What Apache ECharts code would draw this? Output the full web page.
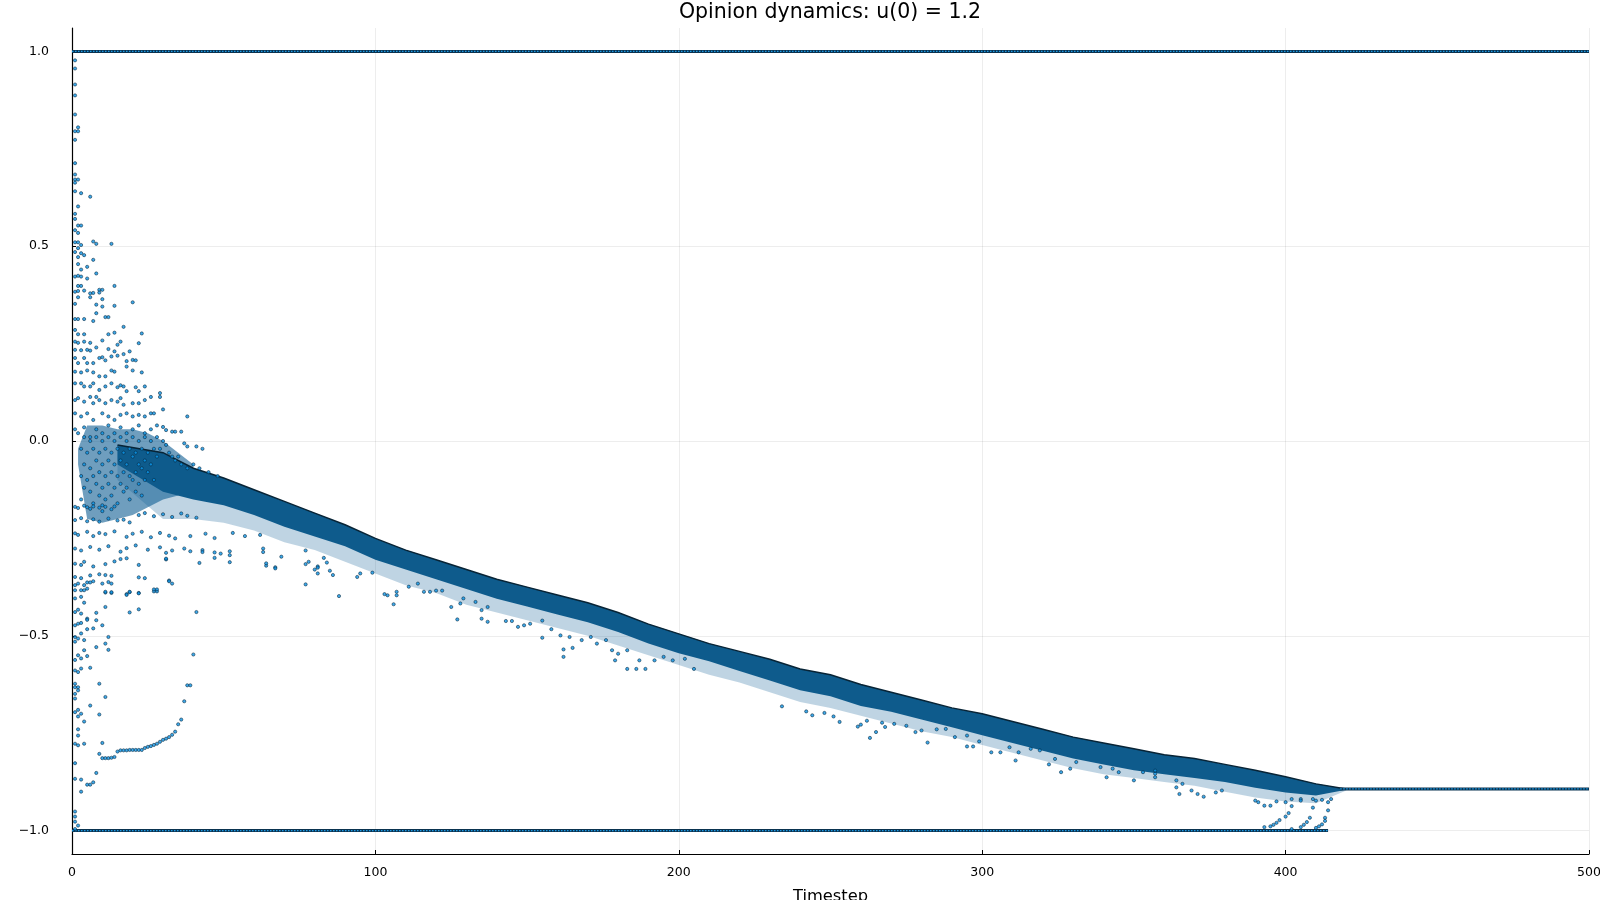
<!DOCTYPE html>
<html lang="en">
<head>
<meta charset="UTF-8">
<title>Opinion dynamics</title>
<script src="https://cdn.jsdelivr.net/npm/echarts@6/dist/echarts.min.js"></script>
<style>
    html, body { margin: 0; padding: 0; background: #fff; }
    #main { width: 1600px; height: 900px; }
</style>
</head>
<body>
<div id="main"></div>
<script>
// ticks
var xTicks = [0, 100, 200, 300, 400, 500];
var yTicks = [-1, -0.5, 0, 0.5, 1];

// early cloud of opinions right after the start
var cloudTimes = [2, 5, 10, 15, 20, 25, 30, 35, 40];
var cloudTop = [-0.02, 0.04, 0.04, 0.03, 0.03, 0.02, 0.0, -0.03, -0.06];
var cloudLow = [-0.06, -0.2, -0.21, -0.2, -0.19, -0.17, -0.15, -0.14, -0.1];

// dense band of opinions (read every 10 steps): upper edge, lower edge of dense part, lower edge of sparse halo
var bandTimes = [15, 30, 40, 50, 60, 70, 80, 90, 100, 110, 120, 130, 140, 150, 160, 170, 180, 190, 200,
    210, 220, 230, 240, 250, 260, 270, 280, 290, 300, 310, 320, 330, 340, 350, 360, 370, 380, 390, 400, 410, 420];
var bandTop = [-0.01, -0.03, -0.07, -0.095, -0.125, -0.155, -0.185, -0.215, -0.25, -0.28, -0.305, -0.33, -0.355,
    -0.375, -0.395, -0.415, -0.44, -0.47, -0.495, -0.52, -0.54, -0.56, -0.585, -0.6, -0.625, -0.645, -0.665, -0.685,
    -0.7, -0.72, -0.74, -0.76, -0.775, -0.79, -0.805, -0.815, -0.83, -0.845, -0.862, -0.88, -0.893];
var bandLow = [-0.06, -0.13, -0.15, -0.165, -0.19, -0.22, -0.245, -0.27, -0.305, -0.33, -0.355, -0.38, -0.405,
    -0.425, -0.445, -0.465, -0.49, -0.52, -0.545, -0.565, -0.59, -0.615, -0.64, -0.655, -0.68, -0.695, -0.715, -0.735,
    -0.755, -0.775, -0.795, -0.815, -0.83, -0.845, -0.855, -0.865, -0.875, -0.89, -0.902, -0.91, -0.895];
var haloLow = [-0.1, -0.2, -0.2, -0.21, -0.23, -0.26, -0.28, -0.31, -0.34, -0.37, -0.39, -0.42, -0.44,
    -0.46, -0.48, -0.5, -0.525, -0.55, -0.575, -0.6, -0.62, -0.645, -0.67, -0.685, -0.705, -0.725, -0.745, -0.76,
    -0.78, -0.8, -0.82, -0.84, -0.855, -0.865, -0.875, -0.885, -0.9, -0.915, -0.925, -0.93, -0.897];

// agents stuck at the extremes and the final cluster
var topLine = [[0, 1], [500, 1]];
var bottomLine = [[0, -1], [414, -1]];
var finalLine = [[418, -0.893], [500, -0.893]];

// scattered agents in the first steps, above the band
var earlyAbove = [[1,0.977],[1,0.956],[1,0.915],[1,0.887],[1,0.838],[1,0.795],[2,0.795],[2,0.805],[1,0.773],[1,0.713],
    [1,0.684],[1,0.671],[2,0.671],[1,0.663],[1,0.641],[3,0.636],[6,0.627],[2,0.602],[1,0.583],[1,0.570],[2,0.553],[3,0.553],
    [1,0.541],[2,0.534],[1,0.510],[2,0.510],[7,0.512],[8,0.506],[13,0.506],[3,0.503],[1,0.485],[2,0.495],[3,0.482],[4,0.477],
    [2,0.472],[7,0.465],[2,0.454],[5,0.447],[3,0.440],[8,0.430],[1,0.422],[2,0.424],[3,0.422],[5,0.417],[2,0.398],[3,0.398],
    [14,0.398],[9,0.388],[10,0.388],[1,0.383],[2,0.385],[4,0.386],[6,0.379],[7,0.380],[9,0.381],[2,0.369],[6,0.369],[10,0.364],
    [1,0.352],[8,0.350],[8,0.328],[10,0.345],[14,0.347],[20,0.356],[1,0.313],[2,0.313],[4,0.313],[7,0.308],[11,0.318],[12,0.318],
    [17,0.293],[1,0.285],[2,0.274],[4,0.274],[12,0.274],[14,0.278],[23,0.276],[1,0.255],[2,0.252],[4,0.255],[6,0.252],[8,0.240],
    [10,0.258],[16,0.255],[15,0.247],[22,0.251],[1,0.234],[3,0.233],[5,0.234],[6,0.232],[12,0.236],[14,0.230],[13,0.217],[19,0.230],
    [1,0.213],[2,0.200],[4,0.213],[5,0.200],[7,0.200],[9,0.213],[10,0.215],[11,0.207],[15,0.219],[17,0.223],[18,0.205],[20,0.208],
    [21,0.207],[1,0.178],[3,0.176],[5,0.181],[7,0.176],[9,0.166],[11,0.166],[13,0.181],[14,0.178],[18,0.191],[20,0.181],[23,0.176],
    [1,0.148],[3,0.148],[4,0.140],[6,0.140],[7,0.148],[9,0.131],[11,0.140],[13,0.148],[15,0.138],[16,0.143],[17,0.140],[18,0.128],
    [21,0.138],[22,0.128],[24,0.140],[1,0.105],[2,0.110],[4,0.101],[6,0.113],[7,0.097],[8,0.113],[9,0.105],[11,0.097],[13,0.105],
    [15,0.101],[16,0.110],[17,0.093],[20,0.097],[22,0.097],[24,0.105],[26,0.113],[29,0.123],[29,0.113],[26,0.071],[30,0.081],
    [27,0.071],[38,0.063],[1,0.071],[3,0.063],[5,0.071],[7,0.054],[10,0.071],[12,0.063],[14,0.054],[16,0.067],[18,0.071],[20,0.063],
    [22,0.067],[24,0.063],[30,0.036],[31,0.028],[33,0.024],[34,0.024],[36,0.024],[37,-0.006],[38,-0.014],[41,-0.014],[43,-0.02],
    [1,0.03],[2,0.02],[4,0.035],[6,0.01],[8,0.03],[10,0.02],[12,0.04],[14,0.02],[16,0.035],[18,0.02],[20,0.03],[22,0.04],
    [24,0.02],[26,0.03],[28,0.04]];

// dots inside the early cloud
var earlyCloud = [[3,-0.02],[3,-0.09],[3,-0.15],[4,0.01],[4,-0.06],[4,-0.12],[5,-0.03],[5,-0.1],[5,-0.17],[6,0.0],[6,-0.07],
    [6,-0.13],[7,-0.02],[7,-0.09],[7,-0.16],[8,0.01],[8,-0.05],[8,-0.11],[9,-0.03],[9,-0.08],[9,-0.14],[10,0.0],[10,-0.06],
    [10,-0.12],[10,-0.18],[11,-0.02],[11,-0.09],[11,-0.15],[12,0.01],[12,-0.05],[12,-0.11],[13,-0.03],[13,-0.08],[13,-0.14],
    [14,0.0],[14,-0.06],[14,-0.12],[15,-0.02],[15,-0.09],[15,-0.16],[16,0.01],[16,-0.05],[16,-0.11],[17,-0.03],[17,-0.08],
    [17,-0.13],[18,0.0],[18,-0.06],[18,-0.12],[19,-0.02],[19,-0.09],[19,-0.15],[20,0.01],[20,-0.04],[20,-0.1],[21,-0.03],
    [21,-0.08],[21,-0.13],[22,0.0],[22,-0.06],[22,-0.11],[23,-0.02],[23,-0.07],[23,-0.14],[24,0.01],[24,-0.05],[24,-0.1],
    [25,-0.03],[25,-0.08],[26,0.0],[26,-0.06],[27,-0.02],[27,-0.1],[28,0.01],[28,-0.04],[29,-0.02],[30,0.0],[31,-0.01],
    [32,-0.03],[33,-0.04],[34,-0.05],[35,-0.04],[36,-0.06],[38,-0.07],[40,-0.06],[42,-0.07],[45,-0.08],[48,-0.09]];

// scattered agents in the first steps, below the band
var earlyBelow = [[1,-0.169],[2,-0.172],[4,-0.166],[6,-0.174],[7,-0.168],[9,-0.171],[10,-0.165],[11,-0.169],[13,-0.175],[14,-0.168],
    [1,-0.203],[3,-0.198],[5,-0.206],[7,-0.201],[9,-0.207],[12,-0.199],[15,-0.204],[17,-0.202],[19,-0.209],
    [22,-0.19],[24,-0.185],[27,-0.193],[30,-0.188],[33,-0.195],[36,-0.186],[38,-0.192],[41,-0.197],
    [1,-0.237],[2,-0.241],[5,-0.233],[7,-0.244],[9,-0.236],[11,-0.239],[14,-0.232],[18,-0.246],[20,-0.238],[23,-0.233],[26,-0.247],
    [29,-0.236],[32,-0.243],[34,-0.25],[39,-0.244],[44,-0.238],[47,-0.249],[53,-0.236],[57,-0.244],[62,-0.241],
    [1,-0.276],[3,-0.281],[6,-0.272],[9,-0.279],[12,-0.27],[16,-0.284],[18,-0.275],[21,-0.268],[25,-0.279],[29,-0.273],[33,-0.281],
    [37,-0.276],[39,-0.283],[43,-0.28],[47,-0.286],[52,-0.283],[63,-0.285],[77,-0.281],
    [1,-0.315],[3,-0.318],[4,-0.31],[7,-0.322],[11,-0.316],[14,-0.309],[16,-0.303],[18,-0.301],[22,-0.318],[31,-0.304],[42,-0.313],
    [52,-0.311],[64,-0.32],[67,-0.324],[77,-0.316],[81,-0.322],[84,-0.312],
    [1,-0.349],[3,-0.352],[6,-0.345],[9,-0.342],[11,-0.344],[13,-0.346],[22,-0.35],[24,-0.352],[32,-0.358],[33,-0.366],[77,-0.368],[81,-0.34],
    [1,-0.383],[3,-0.383],[5,-0.379],[11,-0.389],[13,-0.39],[18,-0.393],[19,-0.388],[22,-0.39],[27,-0.386],[28,-0.386],
    [1,-0.370],[2,-0.366],[4,-0.370],[5,-0.363],[6,-0.363],[7,-0.360],[10,-0.366],[12,-0.362],[13,-0.366],
    [1,-0.404],[3,-0.400],[4,-0.383],[11,-0.387],[13,-0.388],[18,-0.395],[19,-0.387],[22,-0.391],[27,-0.381],[28,-0.381],[32,-0.360],
    [1,-0.439],[2,-0.433],[3,-0.443],[4,-0.415],[5,-0.456],[8,-0.441],[11,-0.426],[19,-0.440],[22,-0.432],
    [1,-0.473],[2,-0.469],[3,-0.467],[5,-0.459],[7,-0.481],[10,-0.473],[8,-0.460],
    [1,-0.503],[2,-0.507],[3,-0.494],[4,-0.511],[1,-0.515],[8,-0.529],[11,-0.520],[12,-0.503],[12,-0.536],[5,-0.483],
    [1,-0.562],[2,-0.550],[3,-0.558],[4,-0.537],[5,-0.552],[6,-0.582],
    [1,-0.589],[2,-0.593],[3,-0.584],[9,-0.623],[1,-0.623],[1,-0.632],[2,-0.632],[1,-0.649],[2,-0.640],[11,-0.657],[1,-0.661],
    [1,-0.696],[2,-0.690],[2,-0.707],[3,-0.700],[6,-0.679],[9,-0.702],[4,-0.720],[2,-0.740],[2,-0.756],
    [10,-0.775],[1,-0.777],[2,-0.781],[4,-0.777],[1,-0.827],[1,-0.867],[3,-0.869],[5,-0.882],[6,-0.882],[7,-0.876],[8,-0.852],[3,-0.900],
    [1,-0.951],[1,-0.964],[1,-0.977],[2,-0.987],[1,-0.996]];

// a small group that stays low and then joins the band
var stuckCurve = [[9,-0.803],[10,-0.814],[11,-0.814],[12,-0.814],[13,-0.813],[14,-0.811],[15,-0.797],[16,-0.794],[17,-0.794],
    [18,-0.794],[19,-0.793],[20,-0.793],[21,-0.793],[22,-0.793],[23,-0.793],[24,-0.788],[25,-0.785],[26,-0.783],[27,-0.780],
    [28,-0.777],[29,-0.772],[30,-0.767],[31,-0.764],[32,-0.760],[33,-0.754],[34,-0.746],[35,-0.727],[36,-0.715],[37,-0.668],
    [38,-0.627],[39,-0.627],[40,-0.548],[41,-0.439]];

// stragglers below the band
var midOutliers = [[31,-0.287],[31,-0.302],[43,-0.285],[47,-0.300],[49,-0.289],[52,-0.293],[63,-0.276],[64,-0.314],[67,-0.327],
    [69,-0.297],[88,-0.398],[85,-0.333],[86,-0.344],[78,-0.31],[80,-0.33],[81,-0.325],[83,-0.30],[94,-0.349],[95,-0.340],
    [99,-0.338],[104,-0.396],[107,-0.396],[106,-0.419],[103,-0.393],[107,-0.387],[111,-0.374],[114,-0.366],[116,-0.387],
    [118,-0.387],[120,-0.384],[122,-0.384],[125,-0.426],[128,-0.417],[129,-0.404],[133,-0.413],[135,-0.434],[137,-0.426],
    [127,-0.458],[135,-0.456],[137,-0.464],[143,-0.462],[145,-0.462],[147,-0.477],[149,-0.473],[151,-0.469],[155,-0.461],
    [158,-0.483],[155,-0.505],[161,-0.499],[164,-0.503],[168,-0.511],[171,-0.503],[173,-0.520],[176,-0.511],[162,-0.535],
    [165,-0.531],[162,-0.554],[178,-0.537],[180,-0.546],[183,-0.537],[187,-0.563],[192,-0.563],[195,-0.554],[179,-0.563],
    [183,-0.585],[186,-0.585],[189,-0.585],[198,-0.563],[202,-0.559],[205,-0.585],
    [234,-0.681],[242,-0.694],[244,-0.704],[248,-0.698],[251,-0.707],[253,-0.721],[259,-0.733],[260,-0.728],[262,-0.718],
    [263,-0.762],[265,-0.747],[267,-0.723],[268,-0.734],[271,-0.726],[275,-0.731],[278,-0.747],[280,-0.743],[282,-0.774],
    [285,-0.740],[288,-0.739],[291,-0.760],[295,-0.756],[295,-0.784],[297,-0.784],[299,-0.771],[303,-0.799],[306,-0.799],
    [309,-0.786],[311,-0.820],[312,-0.799],[316,-0.790],[319,-0.794],[322,-0.830],[324,-0.816],[326,-0.850],[329,-0.841],
    [331,-0.824],[339,-0.837],[341,-0.863],[343,-0.841],[345,-0.850],[350,-0.871],[353,-0.850],[357,-0.863],
    [357,-0.846],[357,-0.854],[364,-0.871],[364,-0.889],[365,-0.906],[366,-0.880],[369,-0.897],[371,-0.906],[373,-0.913],
    [377,-0.902],[379,-0.897],[390,-0.923],[391,-0.927],[393,-0.936],[395,-0.936],[397,-0.925],[400,-0.927],[402,-0.919],
    [405,-0.919],[405,-0.923],[409,-0.919],[410,-0.923],[412,-0.921],[414,-0.927],[415,-0.919]];

// agents leaving -1 near the end and joining the final cluster
var mergeCurves = [[393,-0.991],[395,-0.989],[396,-0.985],[397,-0.980],[398,-0.973],[400,-0.964],[401,-0.955],[402,-0.937],
    [402,-0.996],[405,-0.991],[406,-0.985],[407,-0.978],[408,-0.967],[409,-0.941],[410,-0.993],[411,-0.989],[412,-0.984],
    [413,-0.975],[413,-0.967],[414,-0.948]];

var FONT = 'DejaVu Sans';
var chart = echarts.init(document.getElementById('main'));

function areaPoints(api, times, upper, lower) {
    var pts = [];
    for (var i = 0; i < times.length; i++) pts.push(api.coord([times[i], upper[i]]));
    for (var j = times.length - 1; j >= 0; j--) pts.push(api.coord([times[j], lower[j]]));
    return pts;
}

var dotStyle = {
    color: '#0c93e6',
    borderColor: '#06263b',
    borderWidth: 0.7
};

function levelSeries(data) {
    return [{
        type: 'line', data: data, symbol: 'none', silent: true, z: 3,
        lineStyle: { color: '#0a3350', width: 3 }
    }, {
        type: 'line', data: data, symbol: 'none', silent: true, z: 4,
        lineStyle: { color: '#1c9be6', width: 1.2, type: [1.5, 1.5] }
    }];
}

var series = [{
    type: 'custom',
    data: [[bandTimes[0], bandTop[0]]],
    silent: true,
    z: 2,
    renderItem: function (params, api) {
        return {
            type: 'group',
            children: [{
                type: 'polygon',
                shape: { points: areaPoints(api, bandTimes, bandTop, haloLow) },
                style: { fill: 'rgba(26,100,156,0.28)' }
            }, {
                type: 'polygon',
                shape: { points: areaPoints(api, cloudTimes, cloudTop, cloudLow) },
                style: { fill: 'rgba(15,93,146,0.6)' }
            }, {
                type: 'polygon',
                shape: { points: areaPoints(api, bandTimes, bandTop, bandLow) },
                style: { fill: '#0e5b8c' }
            }, {
                type: 'polyline',
                shape: { points: bandTimes.map(function (t, i) { return api.coord([t, bandTop[i]]); }) },
                style: { stroke: '#082436', lineWidth: 1.5, fill: null }
            }]
        };
    }
}];

series = series
    .concat(levelSeries(topLine))
    .concat(levelSeries(bottomLine))
    .concat(levelSeries(finalLine));

[earlyAbove, earlyCloud, earlyBelow, stuckCurve, midOutliers, mergeCurves].forEach(function (pts) {
    series.push({
        type: 'scatter',
        data: pts,
        symbol: 'circle',
        symbolSize: 3.2,
        itemStyle: dotStyle,
        silent: true,
        z: 5
    });
});

chart.setOption({
    animation: false,
    backgroundColor: '#fff',
    title: {
        text: 'Opinion dynamics: u(0) = 1.2',
        left: 830,
        textAlign: 'center',
        top: 2,
        padding: 0,
        textStyle: { fontFamily: FONT, fontSize: 20.5, fontWeight: 'normal', color: '#000' }
    },
    grid: { left: 72, right: 11, top: 28, bottom: 46, outerBoundsMode: 'none' },
    xAxis: {
        type: 'value',
        min: 0,
        max: 500,
        interval: 100,
        name: 'Timestep',
        nameLocation: 'middle',
        nameGap: 35,
        nameTextStyle: { fontFamily: FONT, fontSize: 16.3, color: '#000' },
        axisLine: { onZero: false, lineStyle: { color: '#000', width: 1.2 } },
        axisTick: { inside: true, length: 4, lineStyle: { color: '#000' } },
        axisLabel: {
            fontFamily: FONT, fontSize: 12.5, color: '#000', margin: 12,
            customValues: xTicks
        },
        splitLine: { show: true, lineStyle: { color: 'rgba(0,0,0,0.07)', width: 1 } }
    },
    yAxis: {
        type: 'value',
        min: -1.06,
        max: 1.06,
        axisLine: { show: true, onZero: false, lineStyle: { color: '#000', width: 1.2 } },
        axisTick: { show: true, inside: true, length: 4, lineStyle: { color: '#000' }, customValues: yTicks },
        axisLabel: {
            fontFamily: FONT, fontSize: 12.5, color: '#000', margin: 23,
            customValues: yTicks,
            formatter: function (v) { return (v < 0 ? '\u2212' : '') + Math.abs(v).toFixed(1); }
        },
        splitLine: { show: true, lineStyle: { color: 'rgba(0,0,0,0.07)', width: 1 } }
    },
    series: series
});
</script>
</body>
</html>
